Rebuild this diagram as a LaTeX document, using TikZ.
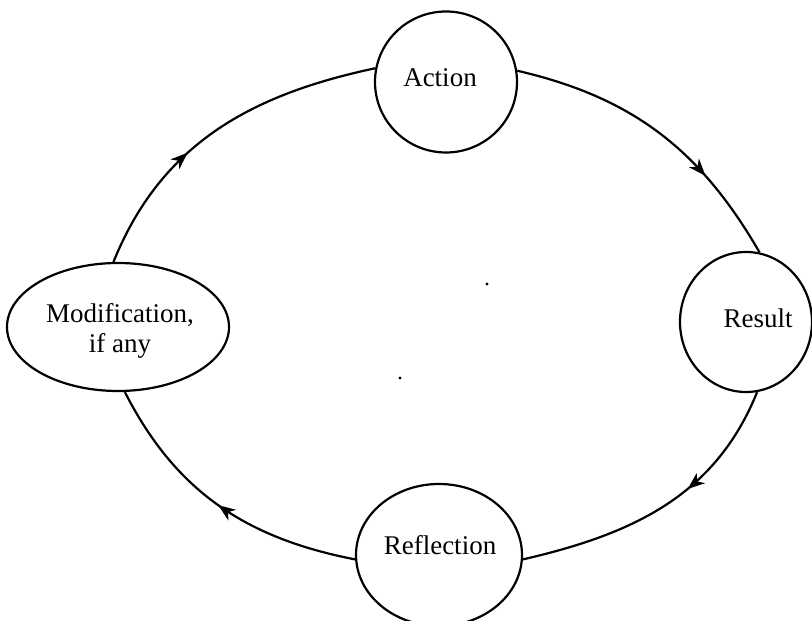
\documentclass[tikz,border=0pt]{standalone}
\usepackage{fontspec}
\setmainfont{Liberation Serif}
\usetikzlibrary{shapes.geometric,arrows.meta,decorations.markings}
\begin{document}
\begin{tikzpicture}[x=1pt,y=1pt,
  stage/.style={draw, line width=2.2pt, ellipse, inner sep=0pt, fill=white},
  lbl/.style={font=\fontsize{27}{30}\selectfont, align=center},
  flow/.style={line width=2.2pt, postaction={decorate},
    decoration={markings, mark=at position #1 with {\arrow{Stealth[length=17pt,width=13pt,inset=5pt]}}}},
]
\useasboundingbox (0,0) rectangle (812,621);
\node[stage, minimum width=142pt, minimum height=141pt,
  label={[lbl, xshift=-6pt, yshift=4pt]center:Action}] (act) at (446,539) {};
\node[stage, minimum width=132pt, minimum height=140pt,
  label={[lbl, xshift=12pt, yshift=4pt]center:Result}] (res) at (746,299) {};
\node[stage, minimum width=166pt, minimum height=142pt,
  label={[lbl, xshift=1pt, yshift=10pt]center:Reflection}] (ref) at (439,66) {};
\node[stage, minimum width=222pt, minimum height=128pt,
  label={[lbl, xshift=2pt, yshift=-4pt]center:{Modification,\\if any}}] (mod) at (118,294) {};
\draw[flow=0.39] (mod.94.5) to[out=68,in=192] (act.169);
\draw[flow=0.70] (act.9.5) to[out=-13,in=120] (res.79);
\draw[flow=0.40] (res.-81) to[out=-112,in=13] (ref.-3.4);
\draw[flow=0.5] (ref.183.4) to[out=169,in=-63] (mod.-84);
\fill (487,337) circle (1.6pt);
\fill (400,243) circle (1.6pt);
\end{tikzpicture}
\end{document}
